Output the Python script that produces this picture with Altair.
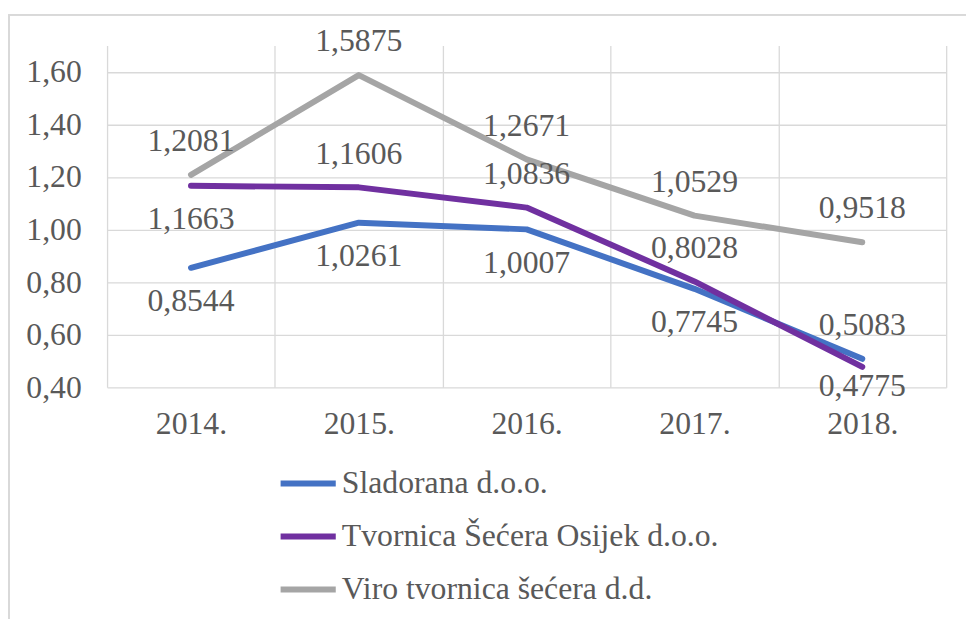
import altair as alt
import pandas as pd

years = ["2014.", "2015.", "2016.", "2017.", "2018."]
series_names = ["Sladorana d.o.o.", "Tvornica Šećera Osijek d.o.o.", "Viro tvornica šećera d.d."]
sladorana = [0.8544, 1.0261, 1.0007, 0.7745, 0.5083]
tvornica = [1.1663, 1.1606, 1.0836, 0.8028, 0.4775]
viro = [1.2081, 1.5875, 1.2671, 1.0529, 0.9518]
colors = ["#4472C4", "#7030A0", "#A5A5A5"]
y_ticks = [0.4, 0.6, 0.8, 1.0, 1.2, 1.4, 1.6]

# label placement per series (a = above, b = below, n = below, close)
placement = {
    series_names[0]: ["b", "b", "b", "b", "a"],
    series_names[1]: ["b", "a", "a", "a", "n"],
    series_names[2]: ["a", "a", "a", "a", "a"],
}

rows = []
for name, vals in zip(series_names, [sladorana, tvornica, viro]):
    for yr, v, p in zip(years, vals, placement[name]):
        rows.append({"year": yr, "series": name, "value": v,
                     "label": f"{v:.4f}".replace(".", ","), "pos": p})
df = pd.DataFrame(rows)

FONT = "Liberation Serif"
TXT = "#595959"
GRID = "#D9D9D9"
FS = 32

x_enc = alt.X("year:N", sort=years, bandPosition=0.5,
              scale=alt.Scale(type="band", paddingInner=0, paddingOuter=0),
              axis=alt.Axis(title=None, tickBand="extent", grid=True, ticks=False,
                            domain=False, labelAngle=0, labelPadding=22,
                            labelFontSize=FS, labelFont=FONT, labelColor=TXT,
                            gridColor=GRID, gridWidth=1.3))
y_enc = alt.Y("value:Q", scale=alt.Scale(domain=[0.4, 1.7], nice=False, zero=False),
              axis=alt.Axis(title=None, values=y_ticks, grid=True, ticks=False,
                            domain=False, labelPadding=26,
                            labelExpr="replace(format(datum.value, '.2f'), '.', ',')",
                            labelFontSize=FS, labelFont=FONT, labelColor=TXT,
                            gridColor=GRID, gridWidth=1.3))
color_enc = alt.Color("series:N", sort=series_names,
                      scale=alt.Scale(domain=series_names, range=colors),
                      legend=alt.Legend(title=None, orient="none", legendX=172, legendY=411,
                                        direction="vertical", symbolType="stroke",
                                        symbolSize=3100, symbolStrokeWidth=6,
                                        labelFont=FONT, labelFontSize=FS, labelColor=TXT,
                                        labelOffset=3, rowPadding=6.5, labelLimit=600))

base = alt.Chart(df)
lines = base.mark_line(strokeWidth=6, strokeCap="round", strokeJoin="round").encode(
    x=x_enc, y=y_enc, color=color_enc, order=alt.Order("year:N"))

def labels(code, dy):
    return base.transform_filter(alt.datum.pos == code).mark_text(
        font=FONT, fontSize=FS, color=TXT, dy=dy, baseline="middle", align="center"
    ).encode(x=alt.X("year:N", sort=years, bandPosition=0.5), y="value:Q", text="label:N")

border_left = base.mark_rule(color=GRID, strokeWidth=1.5).encode(
    x=alt.value(-99), y=alt.value(-31), y2=alt.value(600))
border_top = base.mark_rule(color=GRID, strokeWidth=1.5).encode(
    x=alt.value(-99), x2=alt.value(900), y=alt.value(-31))

chart = alt.layer(border_left, border_top, lines, labels("a", -34), labels("b", 34), labels("n", 19)).properties(
    width=847, height=345, background="white",
    autosize=alt.AutoSizeParams(type="none"),
    padding={"left": 100, "top": 35, "right": 20, "bottom": 231},
).configure(font=FONT).configure_view(stroke=None)

chart.save("out.html", embed_options={"renderer": "svg", "actions": False})
